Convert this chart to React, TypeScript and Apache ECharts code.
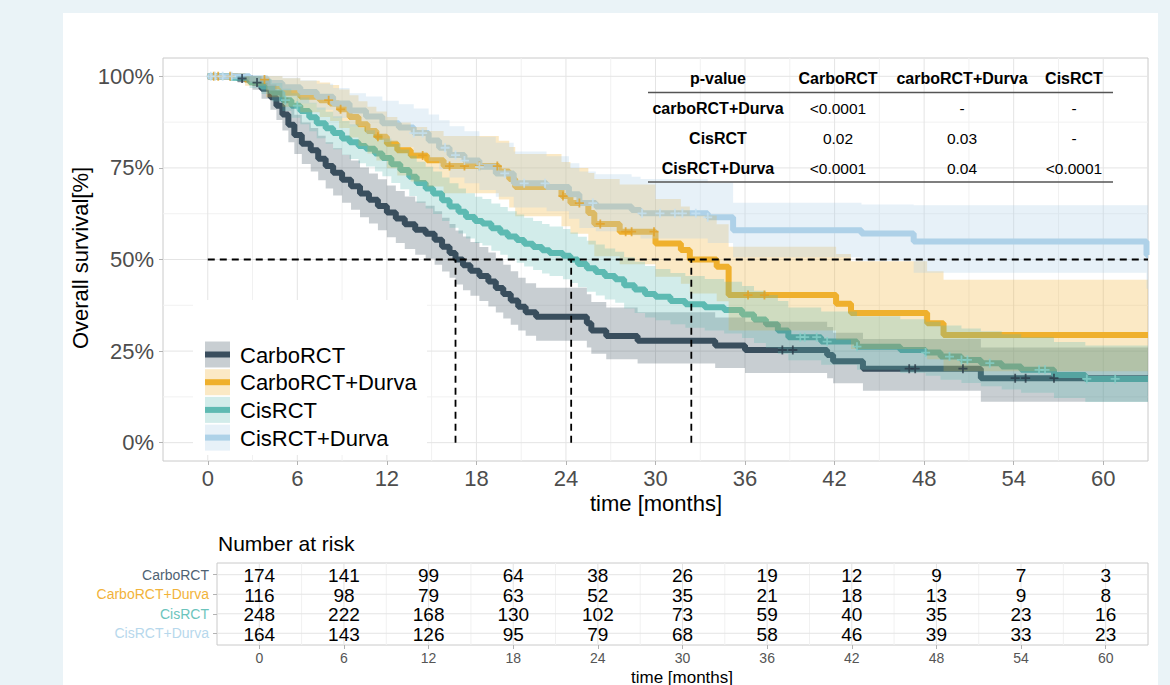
import React, { useEffect, useRef } from "react";
import * as echarts from "echarts";

// ---------- data ----------
const groups = ["CarboRCT", "CarboRCT+Durva", "CisRCT", "CisRCT+Durva"];

const carboTime = [0, 2.0, 3.0, 3.6, 4.2, 4.6, 5.0, 5.4, 5.8, 6.3, 6.9, 7.4, 7.9, 8.4, 9.0, 9.6, 10.2, 10.8, 11.4, 12.0, 12.6, 13.2, 13.9, 14.6, 15.2, 15.7, 16.2, 16.6, 17.1, 17.6, 18.2, 18.8, 19.3, 19.8, 20.3, 20.8, 21.3, 22.0, 25.4, 25.7, 26.7, 28.8, 34.0, 36.0, 41.5, 41.9, 43.9, 51.8];
const carboSurv = [100, 99.4, 98.3, 96.6, 94.3, 92.0, 89.6, 86.8, 84.0, 81.6, 79.8, 77.5, 75.5, 73.7, 71.8, 70.0, 68.0, 66.3, 64.6, 62.8, 61.2, 59.6, 58.1, 57.0, 55.4, 53.5, 51.8, 50.0, 48.4, 46.9, 45.5, 44.0, 42.2, 40.6, 38.8, 37.1, 35.6, 34.4, 32.6, 30.6, 29.1, 27.8, 26.5, 25.3, 23.9, 22.2, 20.2, 17.6];
const carboLower = [100, 98.3, 96.3, 93.9, 90.9, 88.1, 85.2, 82.0, 78.8, 76.1, 74.0, 71.6, 69.4, 67.5, 65.5, 63.6, 61.5, 59.8, 58.0, 56.1, 54.5, 52.9, 51.3, 50.2, 48.6, 46.7, 45.0, 43.2, 41.6, 40.1, 38.7, 37.2, 35.5, 33.9, 32.2, 30.6, 29.2, 27.8, 26.0, 24.3, 22.8, 21.6, 20.4, 19.0, 17.6, 16.2, 14.2, 11.2];
const carboUpper = [100, 100, 100, 99.3, 97.8, 96.1, 94.2, 91.8, 89.5, 87.4, 85.9, 83.8, 82.0, 80.4, 78.6, 77.0, 75.1, 73.5, 71.9, 70.2, 68.7, 67.2, 65.8, 64.7, 63.2, 61.4, 59.7, 57.9, 56.3, 54.8, 53.4, 51.9, 50.2, 48.6, 46.8, 45.0, 43.5, 42.3, 40.5, 38.4, 36.9, 35.6, 34.2, 33.0, 31.6, 30.0, 28.3, 26.0];
const carboCensor = [2.3, 3.3, 38.5, 39.2, 47.0, 47.4, 50.6, 54.1, 54.8, 56.7];

const carboDurvaTime = [0, 2.5, 3.9, 5.0, 6.2, 7.5, 8.2, 8.8, 9.5, 10.1, 10.7, 11.3, 12.0, 12.7, 13.6, 14.7, 15.8, 19.5, 20.2, 20.6, 23.7, 24.3, 25.5, 25.9, 27.6, 30.0, 31.7, 32.3, 34.1, 34.9, 42.1, 43.1, 48.2, 49.3];
const carboDurvaSurv = [100, 99.1, 97.3, 95.5, 94.4, 93.5, 92.6, 91.0, 88.9, 86.9, 85.1, 83.5, 81.6, 79.8, 78.4, 77.1, 75.5, 74.0, 72.0, 69.8, 67.3, 65.4, 62.7, 59.7, 57.6, 54.4, 52.6, 50.0, 48.0, 40.3, 37.9, 35.4, 32.6, 29.4];
const carboDurvaLower = [100, 97.4, 94.3, 91.7, 90.2, 88.9, 87.8, 85.9, 83.3, 81.0, 78.9, 77.0, 74.9, 72.9, 71.3, 69.9, 68.1, 66.4, 64.2, 61.8, 59.1, 57.0, 54.1, 50.9, 48.7, 45.3, 43.4, 40.7, 38.6, 30.6, 28.1, 25.6, 22.8, 19.5];
const carboDurvaUpper = [100, 100, 100, 99.5, 98.8, 98.3, 97.6, 96.4, 94.8, 93.2, 91.7, 90.4, 88.9, 87.4, 86.2, 85.1, 83.7, 82.4, 80.7, 78.8, 76.6, 75.0, 73.6, 72.0, 70.5, 66.5, 64.5, 62.0, 59.6, 53.5, 51.5, 49.5, 46.8, 44.5];
const carboDurvaCensor = [0.4, 0.7, 1.5, 3.8, 8.1, 8.9, 11.4, 14.4, 16.2, 17.2, 18.2, 19.4, 23.8, 24.9, 26.3, 28.0, 28.4, 29.9, 36.2, 37.3];

const cisTime = [0, 1.5, 2.8, 3.6, 4.3, 5.0, 5.6, 6.2, 6.8, 7.3, 7.9, 8.4, 9.0, 9.5, 10.1, 10.6, 11.2, 11.7, 12.3, 12.9, 13.5, 14.0, 14.6, 15.1, 15.7, 16.2, 16.8, 17.3, 17.9, 18.4, 19.0, 19.6, 20.1, 20.7, 21.2, 21.8, 22.4, 22.9, 23.8, 24.3, 24.8, 25.4, 26.0, 26.6, 27.3, 27.9, 28.6, 29.3, 30.0, 31.0, 32.0, 33.3, 34.6, 35.8, 36.6, 37.4, 38.2, 38.9, 41.1, 43.5, 46.4, 48.1, 49.1, 50.5, 51.8, 53.2, 54.5, 56.7, 58.8];
const cisSurv = [100, 99.6, 98.4, 97.2, 95.6, 93.5, 92.0, 90.5, 88.8, 87.2, 85.8, 84.5, 83.0, 82.0, 81.0, 80.2, 78.9, 77.7, 76.0, 74.4, 72.6, 70.9, 69.4, 68.0, 66.2, 64.5, 63.0, 61.6, 60.5, 59.8, 58.5, 57.4, 56.3, 55.3, 54.3, 53.4, 52.5, 51.8, 51.0, 50.0, 48.8, 47.6, 46.6, 45.5, 44.6, 43.0, 41.8, 40.6, 39.8, 38.7, 37.8, 37.0, 36.2, 35.0, 33.6, 32.3, 30.6, 28.8, 27.6, 26.2, 25.3, 24.6, 23.5, 22.6, 21.7, 20.8, 19.9, 18.5, 17.4];
const cisLower = [100, 98.8, 96.8, 95.2, 93.1, 90.5, 88.7, 86.9, 85.0, 83.1, 81.6, 80.1, 78.5, 77.4, 76.3, 75.4, 74.0, 72.7, 70.9, 69.2, 67.3, 65.5, 63.9, 62.4, 60.5, 58.7, 57.1, 55.7, 54.5, 53.8, 52.4, 51.3, 50.1, 49.1, 48.1, 47.1, 46.2, 45.5, 44.6, 43.6, 42.4, 41.2, 40.2, 39.1, 38.2, 36.6, 35.4, 34.2, 33.4, 32.3, 31.4, 30.6, 29.8, 28.6, 27.2, 25.9, 24.2, 22.5, 21.3, 19.9, 19.0, 18.3, 17.2, 16.3, 15.4, 14.5, 13.6, 12.2, 11.1];
const cisUpper = [100, 100, 100, 99.3, 98.2, 96.6, 95.4, 94.2, 92.8, 91.5, 90.3, 89.1, 87.8, 86.9, 86.0, 85.3, 84.1, 83.0, 81.5, 80.0, 78.3, 76.7, 75.3, 74.0, 72.4, 70.8, 69.4, 68.1, 67.1, 66.5, 65.3, 64.3, 63.2, 62.3, 61.4, 60.5, 59.7, 59.0, 58.3, 57.4, 56.2, 55.1, 54.1, 53.0, 52.1, 50.6, 49.4, 48.2, 47.4, 46.3, 45.5, 44.7, 43.9, 42.8, 41.5, 40.3, 38.7, 36.9, 35.8, 34.5, 33.7, 33.0, 32.0, 31.2, 30.4, 29.6, 28.8, 27.5, 26.5];
const cisCensor = [5.2, 6.0, 39.7, 40.0, 40.8, 41.5, 43.5, 48.1, 49.7, 50.5, 50.9, 52.4, 55.7, 56.1, 58.9, 60.8];

const cisDurvaTime = [0, 2.8, 4.0, 5.0, 6.2, 7.3, 8.4, 9.5, 10.6, 11.7, 12.8, 13.8, 14.8, 15.5, 16.2, 17.2, 18.2, 19.3, 20.5, 22.7, 24.2, 24.9, 26.0, 28.4, 29.0, 33.5, 35.2, 43.8, 47.3, 62.9];
const cisDurvaSurv = [100, 99.4, 98.2, 97.0, 95.7, 94.4, 92.6, 90.7, 89.0, 87.2, 86.0, 84.5, 82.5, 80.5, 78.5, 77.0, 75.3, 73.5, 70.8, 69.8, 67.8, 65.4, 64.5, 63.5, 62.6, 61.5, 58.0, 57.1, 54.9, 51.2];
const cisDurvaLower = [100, 98.2, 96.1, 94.4, 92.6, 90.9, 88.6, 86.3, 84.2, 82.1, 80.7, 79.0, 76.8, 74.6, 72.4, 70.8, 69.0, 67.1, 64.2, 63.2, 61.1, 58.6, 57.7, 56.6, 55.7, 54.5, 50.6, 49.6, 46.4, 42.0];
const cisDurvaUpper = [100, 100, 100, 99.6, 98.9, 98.0, 96.8, 95.4, 94.5, 93.3, 92.4, 91.2, 89.6, 88.0, 86.4, 85.0, 83.5, 81.9, 79.5, 78.2, 76.3, 74.0, 73.3, 72.6, 72.0, 71.0, 65.5, 65.0, 64.8, 64.8];
const cisDurvaCensor = [0.2, 0.5, 1.0, 1.6, 13.8, 14.4, 15.9, 16.6, 17.2, 18.2, 19.9, 21.2, 22.6, 25.8, 29.1, 30.3, 31.3, 31.8, 32.7, 33.5];

const medianTimes = [16.6, 32.4, 24.35];
const medianLevel = 50;

const xTickValues = [0, 6, 12, 18, 24, 30, 36, 42, 48, 54, 60];
const xMinorValues = [3, 9, 15, 21, 27, 33, 39, 45, 51, 57];
const yTickValues = [0, 25, 50, 75, 100];
const yMinorValues = [12.5, 37.5, 62.5, 87.5];

const riskTimes = [0, 6, 12, 18, 24, 30, 36, 42, 48, 54, 60];
const riskCarbo = [174, 141, 99, 64, 38, 26, 19, 12, 9, 7, 3];
const riskCarboDurva = [116, 98, 79, 63, 52, 35, 21, 18, 13, 9, 8];
const riskCis = [248, 222, 168, 130, 102, 73, 59, 40, 35, 23, 16];
const riskCisDurva = [164, 143, 126, 95, 79, 68, 58, 46, 39, 33, 23];

const pHeader = ["p-value", "CarboRCT", "carboRCT+Durva", "CisRCT"];
const pRowLabels = ["carboRCT+Durva", "CisRCT", "CisRCT+Durva"];
const pValues = [
  ["<0.0001", "-", "-"],
  ["0.02", "0.03", "-"],
  ["<0.0001", "0.04", "<0.0001"],
];

// ---------- styles ----------
const FONT = "Liberation Sans";
const X_MIN = -3;
const X_MAX = 63;
const Y_MIN = -5;
const Y_MAX = 105;
const lineColors = ["#3a4e5e", "#efb02d", "#5ebab2", "#aed2e8"];
const bandColors = ["rgba(58,78,94,0.28)", "rgba(239,176,45,0.28)", "rgba(94,186,178,0.28)", "rgba(174,210,232,0.30)"];
const censorColors = ["#2a3b48", "#e2a024", "#86d0c9", "#c6e1f1"];
const riskLabelColors = ["#4f6272", "#f2b33a", "#6cc4bc", "#b7d8ec"];

const curves = [
  { time: carboTime, surv: carboSurv, lower: carboLower, upper: carboUpper, censor: carboCensor },
  { time: carboDurvaTime, surv: carboDurvaSurv, lower: carboDurvaLower, upper: carboDurvaUpper, censor: carboDurvaCensor },
  { time: cisTime, surv: cisSurv, lower: cisLower, upper: cisUpper, censor: cisCensor },
  { time: cisDurvaTime, surv: cisDurvaSurv, lower: cisDurvaLower, upper: cisDurvaUpper, censor: cisDurvaCensor },
];
const riskCounts = [riskCarbo, riskCarboDurva, riskCis, riskCisDurva];

function survAt(times: number[], surv: number[], t: number) {
  let s = surv[0];
  for (let i = 0; i < times.length; i++) if (times[i] <= t) s = surv[i];
  return s;
}

function gridLineSeries(vals: number[], dir: "x" | "y", color: string, width: number, gi: number) {
  return {
    type: "custom",
    xAxisIndex: gi,
    yAxisIndex: gi,
    silent: true,
    z: 0,
    data: vals.map((v) => (dir === "x" ? [v, gi === 0 ? 0 : 1] : [0, v])),
    renderItem: (params: any, api: any) => {
      const cs = params.coordSys;
      if (dir === "x") {
        const p = api.coord([api.value(0), gi === 0 ? 50 : 2]);
        return { type: "line", shape: { x1: p[0], y1: cs.y, x2: p[0], y2: cs.y + cs.height }, style: { stroke: color, lineWidth: width } };
      }
      const p = api.coord([0, api.value(1)]);
      return { type: "line", shape: { x1: cs.x, y1: p[1], x2: cs.x + cs.width, y2: p[1] }, style: { stroke: color, lineWidth: width } };
    },
  };
}

function buildOption() {
  const series: any[] = [];
  // grid lines
  series.push(gridLineSeries(xMinorValues, "x", "#f1f1f1", 1, 0));
  series.push(gridLineSeries(yMinorValues, "y", "#f1f1f1", 1, 0));
  series.push(gridLineSeries(xTickValues, "x", "#e4e4e4", 1, 0));
  series.push(gridLineSeries(yTickValues, "y", "#e4e4e4", 1, 0));
  series.push(gridLineSeries(xMinorValues, "x", "#f1f1f1", 1, 1));
  series.push(gridLineSeries(xTickValues, "x", "#e4e4e4", 1, 1));
  series.push(gridLineSeries([1, 2, 3, 4], "y", "#e4e4e4", 1, 1));

  // survival step lines
  curves.forEach((c, k) => {
    const data = c.time.map((t, i) => [t, c.surv[i]]);
    data.push([X_MAX, c.surv[c.surv.length - 1]]);
    series.push({
      type: "line",
      name: groups[k],
      step: "end",
      data,
      showSymbol: false,
      symbol: "none",
      z: 2,
      lineStyle: { color: lineColors[k], width: 6 },
      silent: true,
    });
  });

  // confidence bands (drawn over the lines)
  curves.forEach((c, k) => {
    series.push({
      type: "custom",
      silent: true,
      z: 3,
      data: [[0, 100]],
      renderItem: (params: any, api: any) => {
        const pts: number[][] = [];
        const n = c.time.length;
        for (let i = 0; i < n; i++) {
          const x0 = c.time[i];
          const x1 = i < n - 1 ? c.time[i + 1] : X_MAX;
          pts.push(api.coord([x0, c.upper[i]]));
          pts.push(api.coord([x1, c.upper[i]]));
        }
        for (let i = n - 1; i >= 0; i--) {
          const x0 = c.time[i];
          const x1 = i < n - 1 ? c.time[i + 1] : X_MAX;
          pts.push(api.coord([x1, c.lower[i]]));
          pts.push(api.coord([x0, c.lower[i]]));
        }
        return { type: "polygon", shape: { points: pts }, style: { fill: bandColors[k] } };
      },
    });
  });

  // censor marks
  curves.forEach((c, k) => {
    series.push({
      type: "scatter",
      silent: true,
      z: 4,
      symbol: "path://M4,0H6V4H10V6H6V10H4V6H0V4H4Z",
      symbolSize: 9,
      itemStyle: { color: censorColors[k] },
      data: c.censor.map((t) => [t, survAt(c.time, c.surv, t)]),
    });
  });

  // median dashed lines
  const dash = { color: "#000", width: 1.8, type: [7, 5] };
  series.push({
    type: "line",
    silent: true,
    z: 5,
    symbol: "none",
    data: [[0, medianLevel], [X_MAX, medianLevel]],
    lineStyle: dash,
  });
  medianTimes.forEach((m) => {
    series.push({
      type: "line",
      silent: true,
      z: 5,
      symbol: "none",
      data: [[m, 0], [m, medianLevel]],
      lineStyle: dash,
    });
  });

  // risk table numbers
  const riskData: any[] = [];
  riskCounts.forEach((row, i) => row.forEach((n, j) => riskData.push([riskTimes[j], i + 1, n])));
  series.push({
    type: "custom",
    xAxisIndex: 1,
    yAxisIndex: 1,
    silent: true,
    z: 5,
    data: riskData,
    renderItem: (params: any, api: any) => {
      const p = api.coord([api.value(0), api.value(1)]);
      return {
        type: "text",
        x: p[0],
        y: p[1] + 1,
        style: { text: String(api.value(2)), align: "center", verticalAlign: "middle", fontSize: 19, fontFamily: FONT, fill: "#000" },
      };
    },
  });

  // ---------- graphic: legend, p-value table, titles ----------
  const graphic: any[] = [];
  graphic.push({ type: "rect", z: 1, silent: true, shape: { x: 193, y: 300, width: 234, height: 155 }, style: { fill: "#ffffff" } });
  groups.forEach((g, i) => {
    const top = 341.5 + i * 27.7;
    graphic.push({ type: "rect", z: 1, silent: true, shape: { x: 205, y: top, width: 25, height: 26 }, style: { fill: bandColors[i] } });
    graphic.push({ type: "line", z: 1, silent: true, shape: { x1: 205, y1: top + 13, x2: 230, y2: top + 13 }, style: { stroke: lineColors[i], lineWidth: 6 } });
    graphic.push({ type: "text", z: 1, silent: true, x: 240, y: top + 13.5, style: { text: g, fontSize: 22, fontFamily: FONT, fill: "#000", align: "left", verticalAlign: "middle" } });
  });

  const colX = [718, 838, 962, 1074];
  const rowY = [78, 108, 138, 168];
  pHeader.forEach((h, j) => {
    graphic.push({ type: "text", z: 6, silent: true, x: colX[j], y: rowY[0], style: { text: h, fontSize: 16, fontWeight: "bold", fontFamily: FONT, fill: "#000", align: "center", verticalAlign: "middle" } });
  });
  pRowLabels.forEach((r, i) => {
    graphic.push({ type: "text", z: 6, silent: true, x: colX[0], y: rowY[i + 1], style: { text: r, fontSize: 16, fontWeight: "bold", fontFamily: FONT, fill: "#000", align: "center", verticalAlign: "middle" } });
    pValues[i].forEach((v, j) => {
      graphic.push({ type: "text", z: 6, silent: true, x: colX[j + 1], y: rowY[i + 1], style: { text: v, fontSize: 15.5, fontFamily: FONT, fill: "#000", align: "center", verticalAlign: "middle" } });
    });
  });
  graphic.push({ type: "line", z: 6, silent: true, shape: { x1: 648, y1: 92.5, x2: 1113, y2: 92.5 }, style: { stroke: "#555", lineWidth: 1.5 } });
  graphic.push({ type: "line", z: 6, silent: true, shape: { x1: 648, y1: 182, x2: 1113, y2: 182 }, style: { stroke: "#555", lineWidth: 1.5 } });

  graphic.push({ type: "text", silent: true, x: 80, y: 258, rotation: Math.PI / 2, style: { text: "Overall survival[%]", fontSize: 22, fontFamily: FONT, fill: "#000", align: "center", verticalAlign: "middle" } });
  graphic.push({ type: "text", silent: true, x: 656, y: 503, style: { text: "time [months]", fontSize: 22, fontFamily: FONT, fill: "#000", align: "center", verticalAlign: "middle" } });
  graphic.push({ type: "text", silent: true, x: 218, y: 543, style: { text: "Number at risk", fontSize: 21, fontFamily: FONT, fill: "#000", align: "left", verticalAlign: "middle" } });
  graphic.push({ type: "text", silent: true, x: 682, y: 677, style: { text: "time [months]", fontSize: 17, fontFamily: FONT, fill: "#000", align: "center", verticalAlign: "middle" } });

  const rich: any = {};
  groups.forEach((g, i) => {
    rich["s" + i] = { color: riskLabelColors[i], fontSize: 14, fontFamily: FONT };
  });

  return {
    animation: false,
    textStyle: { fontFamily: FONT },
    grid: [
      { left: 163, right: 22, top: 58, bottom: 224, show: true, borderColor: "#cacaca", borderWidth: 1, backgroundColor: "transparent" },
      { left: 217, right: 22, top: 563, bottom: 40, show: true, borderColor: "#cacaca", borderWidth: 1, backgroundColor: "transparent" },
    ],
    xAxis: [
      {
        type: "value",
        gridIndex: 0,
        min: X_MIN,
        max: X_MAX,
        axisLine: { show: false, onZero: false },
        splitLine: { show: false },
        axisTick: { show: true, length: 4, customValues: xTickValues, lineStyle: { color: "#b3b3b3" } },
        axisLabel: { customValues: xTickValues, fontSize: 22, color: "#4d4d4d", margin: 6, fontFamily: FONT },
      },
      {
        type: "value",
        gridIndex: 1,
        min: X_MIN,
        max: X_MAX,
        axisLine: { show: false, onZero: false },
        splitLine: { show: false },
        axisTick: { show: true, length: 4, customValues: riskTimes, lineStyle: { color: "#b3b3b3" } },
        axisLabel: { customValues: riskTimes, fontSize: 14, color: "#555", margin: 6, fontFamily: FONT },
      },
    ],
    yAxis: [
      {
        type: "value",
        gridIndex: 0,
        min: Y_MIN,
        max: Y_MAX,
        axisLine: { show: false, onZero: false },
        splitLine: { show: false },
        axisTick: { show: true, length: 4, customValues: yTickValues, lineStyle: { color: "#b3b3b3" } },
        axisLabel: { customValues: yTickValues, formatter: (v: number) => v + "%", fontSize: 22, color: "#4d4d4d", margin: 9, fontFamily: FONT },
      },
      {
        type: "value",
        gridIndex: 1,
        min: 0.4,
        max: 4.6,
        inverse: true,
        axisLine: { show: false, onZero: false },
        splitLine: { show: false },
        axisTick: { show: true, length: 4, customValues: [1, 2, 3, 4], lineStyle: { color: "#b3b3b3" } },
        axisLabel: {
          customValues: [1, 2, 3, 4],
          formatter: (v: number) => "{s" + (v - 1) + "|" + groups[v - 1] + "}",
          rich,
          margin: 8,
        },
      },
    ],
    series,
    graphic,
  };
}

export default function App() {
  const ref = useRef<HTMLDivElement>(null);
  useEffect(() => {
    if (!ref.current) return;
    const chart = echarts.init(ref.current, null, { renderer: "svg" });
    chart.setOption(buildOption() as any);
    return () => chart.dispose();
  }, []);
  return (
    <div style={{ position: "fixed", left: 0, top: 0, width: 1170, height: 685, background: "#eaf3f7", overflow: "hidden" }}>
      <div style={{ position: "absolute", left: 63, top: 13, width: 1095, height: 672, background: "#ffffff" }} />
      <div ref={ref} style={{ position: "absolute", left: 0, top: 0, width: 1170, height: 685 }} />
    </div>
  );
}
